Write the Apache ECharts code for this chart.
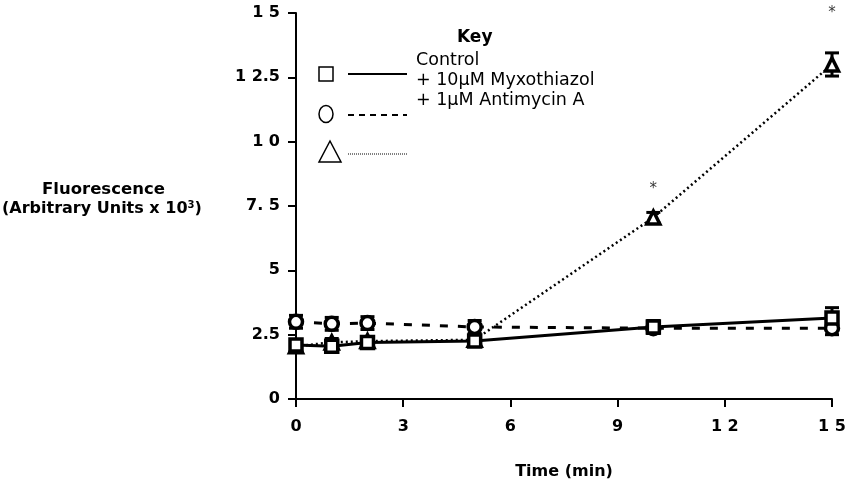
<!DOCTYPE html>
<html><head><meta charset="utf-8">
<script src="https://cdn.jsdelivr.net/npm/echarts@6/dist/echarts.min.js"></script>
<style>html,body{margin:0;padding:0;background:#fff}#c{width:852px;height:491px}</style>
</head><body><div id="c"></div>
<script>
const times = [0, 1, 2, 5, 10, 15];
const controlVals = [2.1, 2.05, 2.2, 2.25, 2.8, 3.15];
const controlErr = [0.15, 0.2, 0.2, 0.15, 0.25, 0.4];
const myxoVals = [3.0, 2.92, 2.95, 2.8, 2.75, 2.75];
const myxoErr = [0.25, 0.25, 0.25, 0.25, 0.2, 0.25];
const antiVals = [2.05, 2.2, 2.25, 2.3, 7.05, 13.0];
const antiErr = [0.1, 0.15, 0.15, 0.15, 0.2, 0.45];
const starTimes = [10, 15];
const starVals = [8.15, 15.0];
const yTickLabels = {0:'0', 2.5:'2.5', 5:'5', 7.5:'7. 5', 10:'1 0', 12.5:'1 2.5', 15:'1 5'};
const xTickLabels = {0:'0', 3:'3', 6:'6', 9:'9', 12:'1 2', 15:'1 5'};
const legendLabels = ['Control', '+ 10\u03bcM Myxothiazol', '+ 1\u03bcM Antimycin A'];

const FONT = '"DejaVu Sans", sans-serif';
const chart = echarts.init(document.getElementById('c'));

function pts(v){ return times.map((t,i)=>[t, v[i]]); }
function errData(v,e){ return times.map((t,i)=>[t, v[i]-e[i], v[i]+e[i]]); }
function errSeries(v,e){
  return {
    type:'custom', z:3, silent:true,
    data: errData(v,e),
    renderItem(params, api){
      const x = api.value(0);
      const lo = api.coord([x, api.value(1)]);
      const hi = api.coord([x, api.value(2)]);
      const w = 7;
      const st = {stroke:'#000', lineWidth:3};
      return {type:'group', children:[
        {type:'line', shape:{x1:lo[0],y1:lo[1],x2:hi[0],y2:hi[1]}, style:st},
        {type:'line', shape:{x1:lo[0]-w,y1:lo[1],x2:lo[0]+w,y2:lo[1]}, style:st},
        {type:'line', shape:{x1:hi[0]-w,y1:hi[1],x2:hi[0]+w,y2:hi[1]}, style:st}
      ]};
    }
  };
}
function lineSeries(name, v, sym, type, width, size, z){
  return {
    name, type:'line', data: pts(v), symbol: sym, symbolSize: size, z: z,
    lineStyle:{color:'#000', width: width, type: type},
    itemStyle:{color:'#fff', borderColor:'#000', borderWidth:3.5},
    showAllSymbol:true
  };
}

chart.setOption({
  animation:false,
  backgroundColor:'#fff',
  grid:{left:296, right:20, top:13, bottom:92, containLabel:false},
  xAxis:{
    type:'value', min:0, max:15, interval:3,
    axisLine:{lineStyle:{color:'#000', width:2}},
    axisTick:{show:true, length:8, lineStyle:{color:'#000', width:2}},
    axisLabel:{color:'#000', fontFamily:FONT, fontWeight:'bold', fontSize:16, margin:20,
      formatter:v=>xTickLabels[v] ?? ''},
    splitLine:{show:false},
    name:'Time (min)', nameLocation:'middle', nameGap:65,
    nameTextStyle:{color:'#000', fontFamily:FONT, fontWeight:'bold', fontSize:16}
  },
  yAxis:{
    type:'value', min:0, max:15, interval:2.5,
    axisLine:{show:true, lineStyle:{color:'#000', width:2}},
    axisTick:{show:true, length:8, lineStyle:{color:'#000', width:2}},
    axisLabel:{color:'#000', fontFamily:FONT, fontWeight:'bold', fontSize:16, margin:16,
      formatter:v=>yTickLabels[v] ?? ''},
    splitLine:{show:false}
  },
  graphic:[
    {type:'text', left:42, top:181, style:{text:'Fluorescence', font:'bold 16.5px '+FONT, fill:'#000'}},
    {type:'text', left:2, top:200, style:{
      text:'(Arbitrary Units x 10{s|3})', font:'bold 16px '+FONT, fill:'#000',
      rich:{s:{fontSize:10, fontWeight:'bold', fontFamily:FONT, verticalAlign:'top', padding:[0,0,8,0]}}}},
    {type:'text', left:457, top:29, style:{text:'Key', font:'bold 17px '+FONT, fill:'#000'}},
    {type:'text', left:416, top:51, style:{text:legendLabels[0], font:'17.5px '+FONT, fill:'#000'}},
    {type:'text', left:416, top:71, style:{text:legendLabels[1], font:'17.5px '+FONT, fill:'#000'}},
    {type:'text', left:416, top:91, style:{text:legendLabels[2], font:'17.5px '+FONT, fill:'#000'}},
    {type:'rect', shape:{x:319, y:67, width:14, height:14}, style:{fill:'#fff', stroke:'#000', lineWidth:1.5}},
    {type:'line', shape:{x1:348, y1:74, x2:407, y2:74}, style:{stroke:'#000', lineWidth:2}},
    {type:'ellipse', shape:{cx:326, cy:114, rx:7, ry:8.5}, style:{fill:'#fff', stroke:'#000', lineWidth:1.5}},
    {type:'line', shape:{x1:348, y1:115, x2:407, y2:115}, style:{stroke:'#000', lineWidth:2, lineDash:[6,5]}},
    {type:'polygon', shape:{points:[[319,162],[341,162],[330,141]]}, style:{fill:'#fff', stroke:'#000', lineWidth:1.5}},
    {type:'line', shape:{x1:348, y1:154, x2:407, y2:154}, style:{stroke:'#000', lineWidth:1, lineDash:[1,1]}}
  ],
  series:[
    errSeries(controlVals, controlErr),
    errSeries(myxoVals, myxoErr),
    errSeries(antiVals, antiErr),
    lineSeries('Antimycin', antiVals, 'triangle', [2,3], 2.5, 13, 4),
    lineSeries('Myxothiazol', myxoVals, 'circle', [8,10], 3, 13, 5),
    lineSeries('Control', controlVals, 'rect', 'solid', 3, 12, 6),
    {type:'scatter', symbolSize:0, data: starTimes.map((t,i)=>[t, starVals[i]]),
      label:{show:true, formatter:'*', position:'inside', color:'#000', fontFamily:FONT, fontSize:15}}
  ]
});
</script></body></html>
